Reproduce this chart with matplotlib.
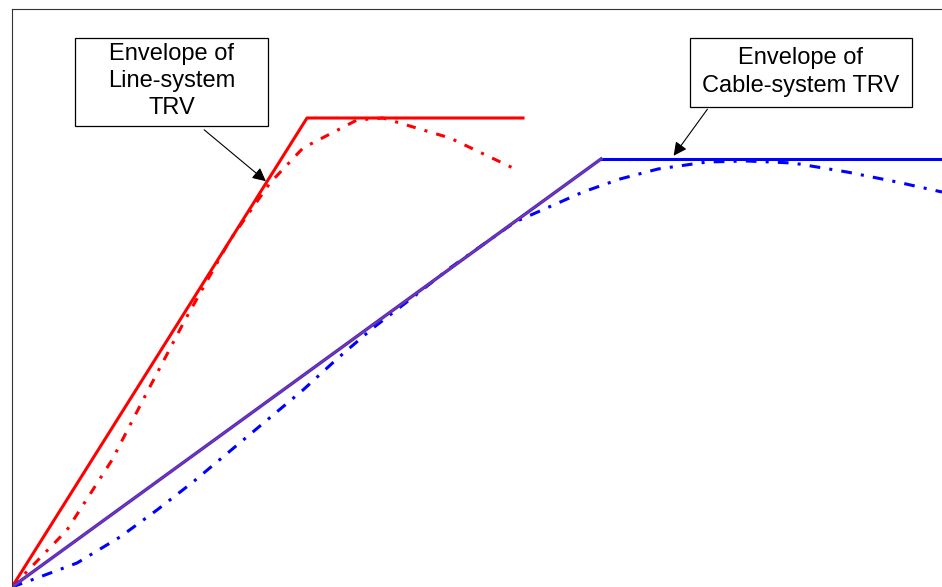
import matplotlib.pyplot as plt
from matplotlib.patches import Rectangle

plt.rcParams["font.family"] = ["Liberation Sans", "DejaVu Sans"]

# envelopes (time, voltage) in arbitrary units
line_env_t = [0, 295, 511]
line_env_v = [0, 469, 469]
cable_env_t = [0, 589, 930]
cable_env_v = [0, 428, 428]

# actual TRV waveforms
line_trv_t = [0, 55, 100, 131, 173, 218, 258, 291, 345, 371, 438, 501]
line_trv_v = [0, 57, 127, 187, 267, 347, 404, 439, 467, 469, 449, 419]
cable_trv_t = [0, 25, 65, 108, 145, 181, 291, 326, 361, 400, 438, 503,
               571, 608, 646, 695, 735, 781, 835, 885, 930]
cable_trv_v = [0, 9, 24, 50, 77, 105, 197, 229, 259, 289, 319, 365,
               395, 408, 418, 425, 426, 424, 415, 405, 395]

fig = plt.figure(figsize=(9.42, 5.87), dpi=100)
ax = fig.add_axes([12 / 942, 0, 930 / 942, 578 / 587])

ax.plot(line_trv_t, line_trv_v, color="red", lw=2.2, linestyle=(0, (3, 3, 1, 3)))
ax.plot(cable_trv_t, cable_trv_v, color="blue", lw=2.2, linestyle=(0, (3.5, 3, 1, 3)))
ax.plot(line_env_t, line_env_v, color="red", lw=2.2)
ax.plot(cable_env_t[1:], cable_env_v[1:], color="blue", lw=2.2)
ax.plot(cable_env_t[:2], cable_env_v[:2], color="#3a2fe0", lw=2.4)
ax.plot(cable_env_t[:2], cable_env_v[:2], color="#c03060", lw=0.8, alpha=0.8)

ax.set_xlim(0, 930)
ax.set_ylim(0, 578)
ax.set_xticks([])
ax.set_yticks([])
for side in ["right", "bottom"]:
    ax.spines[side].set_visible(False)
for side in ["left", "top"]:
    ax.spines[side].set_linewidth(0.8)
    ax.spines[side].set_color("#333333")

# callout boxes
ax.add_patch(Rectangle((63, 461), 193, 88, facecolor="white", edgecolor="black", lw=0.9, zorder=5))
ax.text(159.5, 506, "Envelope of\nLine-system\nTRV", ha="center", va="center",
        fontsize=17, linespacing=1.3, zorder=6)
ax.annotate("", xy=(256, 404), xytext=(190, 459),
            arrowprops=dict(arrowstyle="-|>", color="black", lw=0.8, mutation_scale=20), zorder=6)

ax.add_patch(Rectangle((678, 480), 222, 69, facecolor="white", edgecolor="black", lw=0.9, zorder=5))
ax.text(789, 515, "Envelope of\nCable-system TRV", ha="center", va="center",
        fontsize=17, linespacing=1.3, zorder=6)
ax.annotate("", xy=(660, 429), xytext=(697, 480),
            arrowprops=dict(arrowstyle="-|>", color="black", lw=0.8, mutation_scale=20), zorder=6)

fig.savefig("out.png", dpi=100)
